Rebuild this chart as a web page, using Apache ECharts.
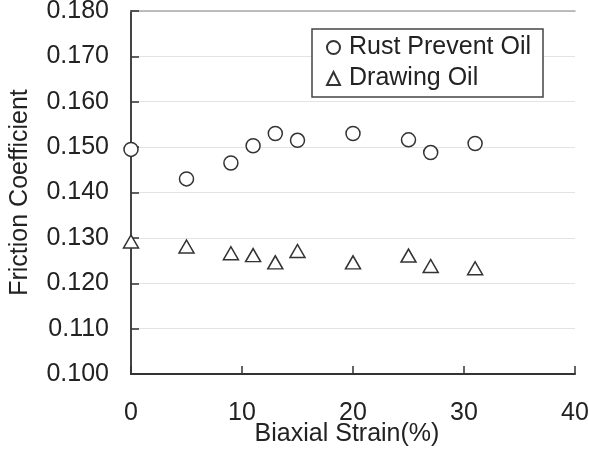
<!DOCTYPE html>
<html>
<head>
<meta charset="utf-8">
<script src="https://cdn.jsdelivr.net/npm/echarts@6/dist/echarts.min.js"></script>
<style>
  html, body { margin: 0; padding: 0; background: #fff; }
  #chart { width: 589px; height: 450px; }
</style>
</head>
<body>
<div id="chart"></div>
<script>
// 双轴应变 vs 摩擦系数
const strain = [0, 5, 9, 11, 13, 15, 20, 25, 27, 31]
const rustOil = [0.1495, 0.1430, 0.1465, 0.1503, 0.1530, 0.1515, 0.1530, 0.1516, 0.1488, 0.1508]
const drawingOil = [0.1292, 0.1281, 0.1266, 0.1262, 0.1246, 0.1271, 0.1246, 0.1261, 0.1238, 0.1233]
const seriesNames = ['Rust Prevent Oil', 'Drawing Oil']

const font = 'Liberation Sans, Arial, sans-serif'
const textColor = '#222'
const fontSize = 25

const toPairs = (xs, ys) => xs.map((x, i) => [x, ys[i]])

const chart = echarts.init(document.getElementById('chart'))
const option = {
    animation: false,
    backgroundColor: '#fff',
    textStyle: { fontFamily: font, color: textColor },
    // v6: outerBoundsMode none 否则 grid 会被压缩
    grid: { left: 131, right: 14, top: 11, bottom: 76, containLabel: false, outerBoundsMode: 'none' },
    legend: {
        orient: 'vertical',
        left: 312,
        top: 29,
        padding: [6, 12, 6, 14],
        itemGap: 6,
        itemWidth: 13,
        itemHeight: 13,
        borderColor: '#444',
        borderWidth: 1.5,
        backgroundColor: '#fff',
        textStyle: { fontFamily: font, fontSize: fontSize, color: textColor, padding: [0, 0, 0, 4] },
        data: seriesNames
    },
    xAxis: [
        {
            type: 'value', min: 0, max: 40, interval: 10,
            name: 'Biaxial Strain(%)', nameLocation: 'middle', nameGap: 48, nameMoveOverlap: false,
            nameTextStyle: { fontFamily: font, fontSize: fontSize, color: textColor, padding: [0, 12, 0, 0] },
            axisLine: { show: true, lineStyle: { color: '#333', width: 2 } },
            axisTick: { show: true, inside: true, length: 8, lineStyle: { color: '#333', width: 1.5 } },
            axisLabel: { fontFamily: font, fontSize: fontSize, color: textColor, margin: 27 },
            splitLine: { show: false }
        },
        {
            type: 'value', position: 'top', min: 0, max: 40,
            axisLine: { show: true, lineStyle: { color: '#aaa', width: 1.5 } },
            axisTick: { show: false }, axisLabel: { show: false }, splitLine: { show: false }
        }
    ],
    yAxis: [
        {
            type: 'value', min: 0.1, max: 0.18, interval: 0.01,
            name: 'Friction Coefficient', nameLocation: 'middle', nameRotate: 90, nameGap: 98, nameMoveOverlap: false,
            nameTextStyle: { fontFamily: font, fontSize: fontSize, color: textColor },
            axisLine: { show: true, lineStyle: { color: '#333', width: 2 } },
            axisTick: { show: true, inside: true, length: 8, lineStyle: { color: '#333', width: 1.5 } },
            axisLabel: { fontFamily: font, fontSize: fontSize, color: textColor, margin: 22, formatter: v => v.toFixed(3) },
            splitLine: { show: true, lineStyle: { color: '#e3e3e3', width: 1 } }
        },
        {
            type: 'value', position: 'right', min: 0.1, max: 0.18,
            axisLine: { show: true, lineStyle: { color: '#444', width: 2 } },
            axisTick: { show: false }, axisLabel: { show: false }, splitLine: { show: false }
        }
    ],
    series: [
        {
            name: seriesNames[0], type: 'scatter', clip: false, symbol: 'circle', symbolSize: 14,
            itemStyle: { color: '#fff', borderColor: '#333', borderWidth: 1.5, opacity: 1 },
            data: toPairs(strain, rustOil)
        },
        {
            name: seriesNames[1], type: 'scatter', clip: false, symbol: 'triangle', symbolSize: [15, 13],
            itemStyle: { color: '#fff', borderColor: '#333', borderWidth: 1.5, opacity: 1 },
            data: toPairs(strain, drawingOil)
        }
    ]
}
chart.setOption(option)
</script>
</body>
</html>
